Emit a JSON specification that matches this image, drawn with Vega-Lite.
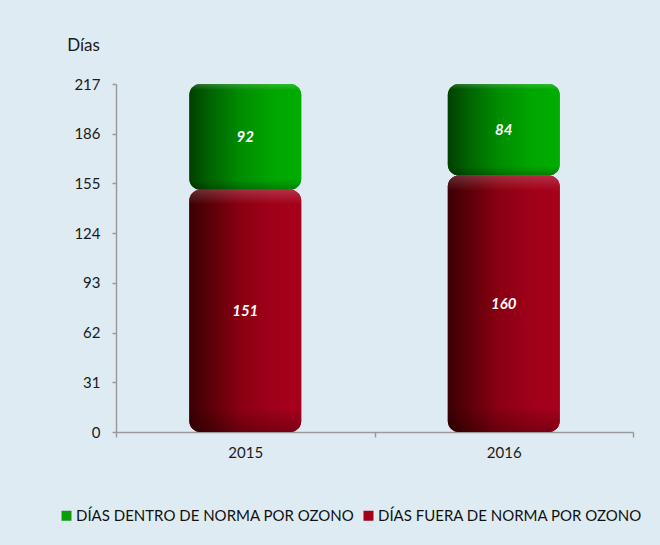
{
  "$schema": "https://vega.github.io/schema/vega-lite/v6.json",
  "width": 517,
  "height": 348,
  "autosize": {"type": "none"},
  "padding": {"left": 116, "top": 84, "right": 27, "bottom": 113},
  "background": "#DEEBF3",
  "config": {
    "view": {"stroke": null},
    "font": "Lato",
    "axis": {"labelFont": "Lato", "titleFont": "Lato", "labelColor": "#1a1a1a", "titleColor": "#1a1a1a"}
  },
  "data": {
    "values": [
      {"anio": "2015", "serie": "DÍAS FUERA DE NORMA POR OZONO", "dias": 151, "orden": 1},
      {"anio": "2015", "serie": "DÍAS DENTRO DE NORMA POR OZONO", "dias": 92, "orden": 2},
      {"anio": "2016", "serie": "DÍAS FUERA DE NORMA POR OZONO", "dias": 160, "orden": 1},
      {"anio": "2016", "serie": "DÍAS DENTRO DE NORMA POR OZONO", "dias": 84, "orden": 2}
    ]
  },
  "transform": [
    {"stack": "dias", "groupby": ["anio"], "sort": [{"field": "orden", "order": "ascending"}], "as": ["y0", "y1"]},
    {"calculate": "min(datum.y1, 217)", "as": "y1c"},
    {"calculate": "(datum.y0 + datum.y1c) / 2", "as": "mid"}
  ],
  "encoding": {
    "x": {
      "field": "anio", "type": "nominal",
      "scale": {"paddingInner": 0, "paddingOuter": 0},
      "axis": {
        "title": null, "labelAngle": 0, "labelFontSize": 15, "labelPadding": 8,
        "tickBand": "extent", "tickSize": 5, "tickColor": "#9a9a9a", "tickWidth": 1.5,
        "domainColor": "#9a9a9a", "domainWidth": 1.5, "grid": false
      }
    },
    "y": {
      "field": "y0", "type": "quantitative",
      "scale": {"domain": [0, 217], "nice": false, "zero": true, "clamp": true},
      "axis": {
        "title": "Días", "titleAngle": 0, "titleFontSize": 17, "titleFontWeight": "normal",
        "titleX": -33, "titleY": -39, "titleAlign": "center", "titleBaseline": "middle",
        "values": [0, 31, 62, 93, 124, 155, 186, 217],
        "labelFontSize": 15, "labelPadding": 12, "tickSize": 4,
        "tickColor": "#9a9a9a", "tickWidth": 1.5, "domainColor": "#9a9a9a", "domainWidth": 1.5,
        "grid": false
      }
    },
    "y2": {"field": "y1"}
  },
  "layer": [
    {
      "mark": {"type": "bar", "cornerRadius": 11, "width": {"band": 0.433}},
      "encoding": {
        "color": {
          "field": "serie", "type": "nominal",
          "scale": {"domain": ["DÍAS DENTRO DE NORMA POR OZONO", "DÍAS FUERA DE NORMA POR OZONO"], "range": ["#0a9e0a", "#a3001a"]},
          "legend": {
            "orient": "none", "direction": "horizontal", "legendX": -57, "legendY": 424,
            "title": null, "symbolType": "square", "symbolSize": 100, "symbolStrokeWidth": 0,
            "labelFontSize": 15, "labelColor": "#111111", "columnPadding": 6, "labelOffset": 2,
            "labelLimit": 0
          }
        }
      }
    },
    {
      "transform": [{"filter": "datum.orden == 1"}],
      "mark": {
        "type": "bar", "cornerRadius": 11, "width": {"band": 0.433},
        "color": {
          "gradient": "linear", "x1": 0, "y1": 0, "x2": 1, "y2": 0,
          "stops": [
            {"offset": 0, "color": "#3a0004"},
            {"offset": 0.18, "color": "#5a0008"},
            {"offset": 0.45, "color": "#8a0012"},
            {"offset": 0.75, "color": "#a0001a"},
            {"offset": 1, "color": "#a8001c"}
          ]
        }
      }
    },
    {
      "transform": [{"filter": "datum.orden == 2"}],
      "mark": {
        "type": "bar", "cornerRadius": 11, "width": {"band": 0.433},
        "color": {
          "gradient": "linear", "x1": 0, "y1": 0, "x2": 1, "y2": 0,
          "stops": [
            {"offset": 0, "color": "#004000"},
            {"offset": 0.18, "color": "#006300"},
            {"offset": 0.45, "color": "#008c00"},
            {"offset": 0.75, "color": "#00a600"},
            {"offset": 1, "color": "#00ad00"}
          ]
        }
      }
    },
    {
      "mark": {
        "type": "bar", "cornerRadius": 11, "width": {"band": 0.433},
        "color": {
          "gradient": "linear", "x1": 0, "y1": 0, "x2": 0, "y2": 1,
          "stops": [
            {"offset": 0, "color": "rgba(255,255,255,0.18)"},
            {"offset": 0.06, "color": "rgba(255,255,255,0.0)"},
            {"offset": 0.9, "color": "rgba(0,0,0,0.0)"},
            {"offset": 1, "color": "rgba(0,0,0,0.25)"}
          ]
        }
      }
    },
    {
      "mark": {"type": "text", "color": "white", "fontSize": 15, "fontWeight": "bold", "fontStyle": "italic"},
      "encoding": {
        "y": {"field": "mid", "type": "quantitative"},
        "y2": null,
        "text": {"field": "dias", "type": "quantitative"}
      }
    }
  ]
}
